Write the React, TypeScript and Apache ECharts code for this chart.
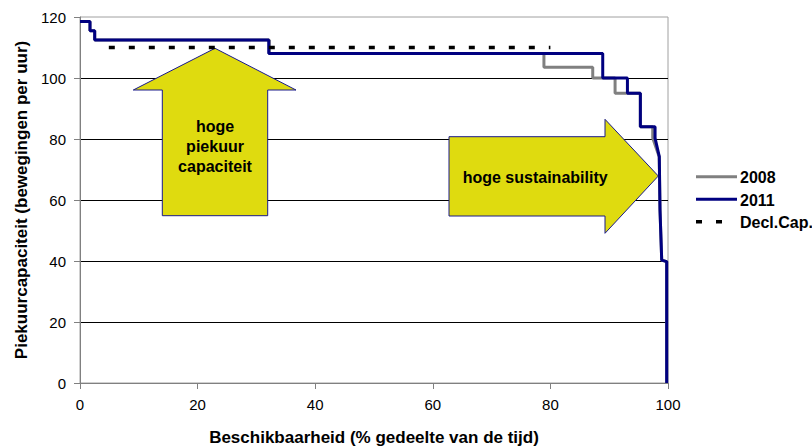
import React, { useEffect, useRef } from "react";
import * as echarts from "echarts";

const xTicks = [0, 20, 40, 60, 80, 100];
const yTicks = [0, 20, 40, 60, 80, 100, 120];

const series2008: [number, number][] = [
  [0, 118.5], [1.7, 118.5], [1.7, 115.5], [2.5, 115.5], [2.5, 112.5],
  [32.2, 112.5], [32.2, 108], [78.9, 108], [78.9, 103.5], [87.2, 103.5],
  [87.2, 100], [91, 100], [91, 95], [95.3, 95], [95.3, 84], [97.4, 84],
  [97.4, 80.3], [98.5, 74.2], [98.64, 56.7], [98.93, 40.3], [99.78, 39.8], [99.78, 0],
];

const series2011: [number, number][] = [
  [0, 118.5], [1.7, 118.5], [1.7, 115.5], [2.5, 115.5], [2.5, 112.5],
  [32.1, 112.5], [32.1, 108], [88.9, 108], [88.9, 100], [93.1, 100],
  [93.1, 95], [95.3, 95], [95.3, 84], [97.8, 84], [97.8, 80.3],
  [98.52, 74.2], [98.64, 56.7], [98.93, 40.3], [99.78, 39.8], [99.78, 0],
];

const declCap: [number, number][] = [[4.9, 110], [80, 110]];

const names = ["2008", "2011", "Decl.Cap."];
const colors = ["#808080", "#000080", "#000000"];
const FONT = "'Liberation Sans', Arial, sans-serif";
const ARROW_FILL = "#DFDB0F";
const ARROW_STROKE = "#1A1A8A";

export default function App() {
  const ref = useRef<HTMLDivElement>(null);
  useEffect(() => {
    const chart = echarts.init(ref.current!, null, { renderer: "svg" });
    const legendTop = 176.7;
    const legendStep = 22.5;
    const legendGraphics: any[] = [];
    names.forEach((n, i) => {
      const y = legendTop + i * legendStep;
      legendGraphics.push({
        type: "line",
        z: 6,
        shape: { x1: 696, y1: y, x2: i === 2 ? 723 : 737, y2: y },
        style: i === 2
          ? { stroke: colors[i], lineWidth: 3.5, lineDash: [6, 14] }
          : { stroke: colors[i], lineWidth: 3 },
      });
      legendGraphics.push({
        type: "text",
        z: 6,
        x: 740,
        y: y + 1,
        style: {
          text: n,
          fontFamily: FONT,
          fontWeight: "bold",
          fontSize: 16,
          fill: "#000",
          align: "left",
          verticalAlign: "middle",
        },
      });
    });
    chart.setOption({
      animation: false,
      backgroundColor: "#ffffff",
      textStyle: { fontFamily: FONT },
      grid: {
        left: 80, right: 144, top: 17, bottom: 64,
        outerBoundsMode: "none",
        containLabel: false,
        show: true, borderColor: "#a0a0a0", borderWidth: 1, backgroundColor: "transparent",
      },
      xAxis: {
        type: "value",
        min: xTicks[0],
        max: xTicks[xTicks.length - 1],
        interval: 20,
        name: "Beschikbaarheid (% gedeelte van de tijd)",
        nameLocation: "middle",
        nameGap: 46,
        nameTextStyle: { fontFamily: FONT, fontWeight: "bold", fontSize: 17, color: "#000" },
        axisLine: { show: true, lineStyle: { color: "#808080", width: 1 } },
        axisTick: { show: true, inside: false, length: 6, lineStyle: { color: "#808080" } },
        axisLabel: { fontFamily: FONT, fontSize: 15, color: "#000", margin: 14 },
        splitLine: { show: false },
      },
      yAxis: {
        type: "value",
        min: yTicks[0],
        max: yTicks[yTicks.length - 1],
        interval: 20,
        name: "Piekuurcapaciteit (bewegingen per uur)",
        nameLocation: "middle",
        nameGap: 48,
        nameTextStyle: { fontFamily: FONT, fontWeight: "bold", fontSize: 17, color: "#000" },
        axisLine: { show: true, lineStyle: { color: "#808080", width: 1 } },
        axisTick: { show: true, inside: false, length: 6, lineStyle: { color: "#808080" } },
        axisLabel: { fontFamily: FONT, fontSize: 15, color: "#000", margin: 14 },
        splitLine: { show: true, showMinLine: false, showMaxLine: false, lineStyle: { color: "#000", width: 1 } },
      },
      graphic: [
        {
          type: "polygon",
          z: 1,
          shape: {
            points: [
              [215, 48.3], [296, 90], [267.7, 90], [267.7, 215.7],
              [162.3, 215.7], [162.3, 90], [133.3, 90],
            ],
          },
          style: { fill: ARROW_FILL, stroke: ARROW_STROKE, lineWidth: 1 },
        },
        {
          type: "polygon",
          z: 1,
          shape: {
            points: [
              [449, 136.7], [605, 136.7], [605, 119.3], [658.3, 176],
              [605, 233.3], [605, 216], [449, 216],
            ],
          },
          style: { fill: ARROW_FILL, stroke: ARROW_STROKE, lineWidth: 1 },
        },
        {
          type: "text",
          z: 1,
          x: 215,
          y: 146.7,
          style: {
            text: "hoge\npiekuur\ncapaciteit",
            fontFamily: FONT,
            fontWeight: "bold",
            fontSize: 16,
            lineHeight: 20,
            fill: "#000",
            align: "center",
            verticalAlign: "middle",
          },
        },
        {
          type: "text",
          z: 1,
          x: 462.7,
          y: 177.3,
          style: {
            text: "hoge sustainability",
            fontFamily: FONT,
            fontWeight: "bold",
            fontSize: 16,
            fill: "#000",
            align: "left",
            verticalAlign: "middle",
          },
        },
        ...legendGraphics,
      ],
      series: [
        {
          name: names[0],
          type: "line",
          data: series2008,
          showSymbol: false,
          symbol: "none",
          z: 3,
          lineStyle: { color: colors[0], width: 3 },
          itemStyle: { color: colors[0] },
        },
        {
          name: names[1],
          type: "line",
          data: series2011,
          showSymbol: false,
          symbol: "none",
          z: 4,
          lineStyle: { color: colors[1], width: 3 },
          itemStyle: { color: colors[1] },
        },
        {
          name: names[2],
          type: "line",
          data: declCap,
          showSymbol: false,
          symbol: "none",
          z: 5,
          lineStyle: { color: colors[2], width: 3.5, type: [6, 14] },
          itemStyle: { color: colors[2] },
        },
      ],
    });
    return () => chart.dispose();
  }, []);
  return <div ref={ref} style={{ width: 812, height: 447, position: "absolute", left: 0, top: 0 }} />;
}
